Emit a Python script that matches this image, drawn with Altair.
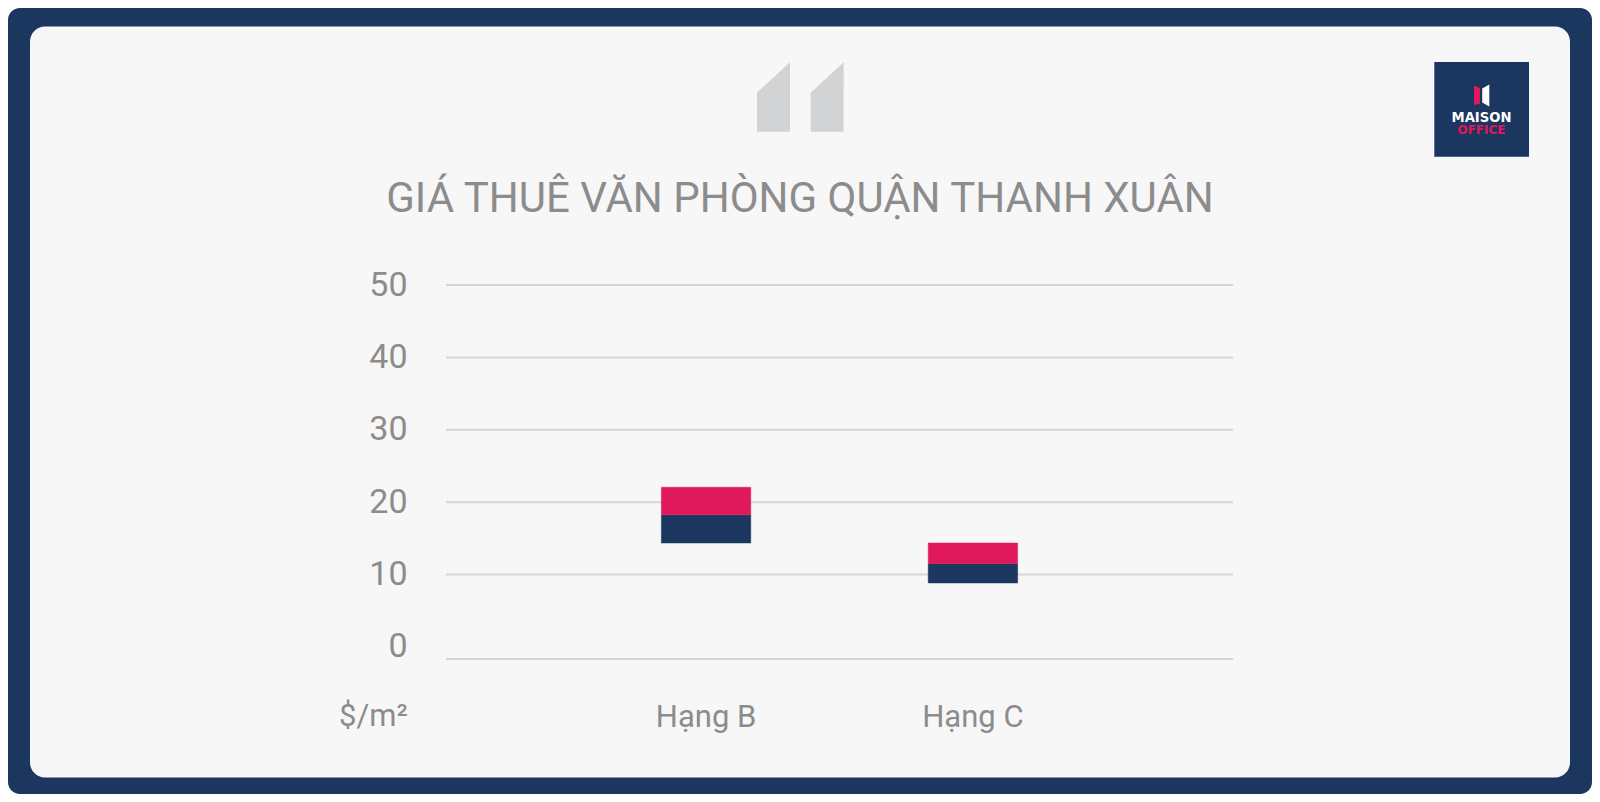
import altair as alt
import pandas as pd

categories = ["Hạng B", "Hạng C"]
low_values = [14.35, 9.0]
mid_values = [18.25, 11.5]
high_values = [22.05, 14.35]
tick_values = [0, 10, 20, 30, 40, 50]
title_text = "GIÁ THUÊ VĂN PHÒNG QUẬN THANH XUÂN"
unit_text = "$/m²"

NAVY = "#1b365f"
PINK = "#e0185c"
PANEL = "#f7f7f7"
GREY = "#8c8c8c"
GRID = "#d6d6d6"
QUOTE = "#d2d3d5"
FONT = "Roboto"

# page position of the plot area's top-left corner
OX, OY = 446, 285
W, H = 787, 374
SVG_W, SVG_H = 1584, 786
PAD = {"left": OX - 8, "top": OY - 8, "right": SVG_W - (OX - 8) - W, "bottom": SVG_H - (OY - 8) - H}


def px(v):
    return alt.value(v - OX)


def py(v):
    return alt.value(v - OY)


def box(x0, y0, x1, y1):
    return dict(x=px(x0), x2=px(x1), y=py(y0), y2=py(y1))


y_scale = alt.Scale(domain=[0, 10, 50], range=[H, H - 84.5, 0], nice=False, zero=False, clamp=False)
x_scale = alt.Scale(domain=categories, paddingInner=0.665, paddingOuter=0.807)
tone_scale = alt.Scale(domain=["Thấp", "Cao"], range=[NAVY, PINK])

y_axis = alt.Axis(
    values=tick_values,
    grid=False,
    domain=False,
    ticks=False,
    zindex=1,
    labelPadding=39,
    labelFont=FONT,
    labelFontSize=34,
    labelFontWeight=400,
    labelColor=GREY,
    labelOffset=alt.expr("datum.value === 0 ? -13 : 0"),
    title=unit_text,
    titleFont=FONT,
    titleFontSize=31,
    titleFontWeight=400,
    titleColor=GREY,
    titleAngle=0,
    titleAlign="center",
    titleBaseline="middle",
    titleX=-73,
    titleY=H + 57,
)

bars = pd.DataFrame(
    {
        "hang": categories * 2,
        "tu": low_values + mid_values,
        "den": mid_values + high_values,
        "muc": ["Thấp"] * 2 + ["Cao"] * 2,
    }
)
ticks = pd.DataFrame({"v": tick_values})
one = pd.DataFrame({"a": [0]})

frame = alt.Chart(one).mark_rect(color=NAVY, cornerRadius=12).encode(**box(8, 8, 1592, 794))
panel = alt.Chart(one).mark_rect(color=PANEL, cornerRadius=15).encode(**box(30, 26.5, 1570, 777.5))


def poly(path, size, color, x, y):
    return (
        alt.Chart(one)
        .mark_point(shape=path, size=size, filled=True, color=color, opacity=1, strokeWidth=0)
        .encode(x=px(x), y=py(y))
    )


quote_path = "M-0.471,-0.124L0.471,-0.99L0.471,0.99L-0.471,0.99Z"
quote1 = poly(quote_path, 4900, QUOTE, 773.5, 97)
quote2 = poly(quote_path, 4900, QUOTE, 827.2, 97)

logo_bg = alt.Chart(one).mark_rect(color=NAVY).encode(**box(1434.3, 62, 1529, 156.7))
door_red = poly("M-0.77,-0.98L-0.17,-0.75L-0.17,0.8L-0.77,0.98Z", 400, PINK, 1481.7, 95.5)
door_white = poly("M0.05,-0.7L0.76,-1.1L0.76,1.1L0.05,0.7Z", 400, "#ffffff", 1481.7, 95.5)
logo_t1 = (
    alt.Chart(one)
    .mark_text(text="MAISON", font="DejaVu Sans", fontWeight="bold", fontSize=13.2, color="#ffffff", align="center", baseline="middle")
    .encode(x=px(1481.5), y=py(117.5))
)
logo_t2 = (
    alt.Chart(one)
    .mark_text(text="OFFICE", font="DejaVu Sans", fontWeight="bold", fontSize=12, color=PINK, align="center", baseline="middle")
    .encode(x=px(1481.5), y=py(129.5))
)
title_mark = (
    alt.Chart(one)
    .mark_text(text=title_text, font=FONT, fontSize=42, fontWeight=400, color=GREY, align="center", baseline="alphabetic")
    .encode(x=px(800), y=py(212))
)

grid = (
    alt.Chart(ticks)
    .mark_rule(color=GRID, strokeWidth=2)
    .encode(y=alt.Y("v:Q", scale=y_scale, axis=y_axis), x=alt.value(0), x2=alt.value(W))
)

bar_layer = (
    alt.Chart(bars)
    .mark_bar(opacity=1, strokeWidth=0.5)
    .encode(
        x=alt.X(
            "hang:N",
            scale=x_scale,
            sort=categories,
            axis=alt.Axis(
                title=None,
                labelAngle=0,
                domain=False,
                ticks=False,
                zindex=1,
                labelPadding=43,
                labelFont=FONT,
                labelFontSize=31,
                labelFontWeight=400,
                labelColor=GREY,
            ),
        ),
        y=alt.Y("tu:Q", scale=y_scale, axis=y_axis),
        y2="den:Q",
        color=alt.Color("muc:N", scale=tone_scale, legend=None),
        stroke=alt.Stroke("muc:N", scale=tone_scale, legend=None),
    )
)

chart = alt.layer(
    frame, panel, quote1, quote2, logo_bg, door_red, door_white, logo_t1, logo_t2, title_mark, grid, bar_layer
).properties(
    width=W,
    height=H,
    padding=PAD,
    autosize=alt.AutoSizeParams(type="none"),
    background="#ffffff",
).configure_view(stroke=None)

chart.save("out.html", embed_options={"renderer": "svg", "actions": False})
